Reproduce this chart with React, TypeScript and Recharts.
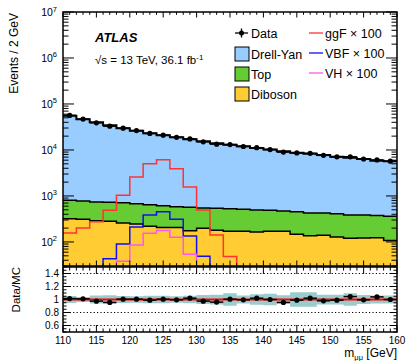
import React from 'react';
import {
  ComposedChart,
  Area,
  Line,
  Scatter,
  ErrorBar,
  XAxis,
  YAxis,
  ReferenceLine,
} from 'recharts';

// bin lower edges, 2 GeV bins
const binLow = [
  110, 112, 114, 116, 118, 120, 122, 124, 126, 128, 130, 132, 134,
  136, 138, 140, 142, 144, 146, 148, 150, 152, 154, 156, 158,
];
const binWidth = 2;

// stacked backgrounds (events / 2 GeV)
const dibosonVals = [
  321, 311, 290, 281, 259, 246, 219, 207, 207, 176, 198, 179, 170,
  170, 165, 170, 170, 147, 137, 140, 128, 120, 122, 124, 108,
];
const topVals = [
  482, 465, 449, 446, 457, 435, 427, 408, 378, 389, 349, 359, 355,
  342, 330, 317, 301, 308, 289, 286, 284, 266, 264, 250, 253,
];
const dyVals = [
  54900, 45620, 39260, 33670, 28980, 25620, 22450, 20290, 18320, 16540, 14850, 13460, 12480,
  11490, 10510, 9710, 8930, 8250, 7870, 7370, 6740, 6410, 6010, 5480, 5340,
];
const dataVals = [
  56500, 46900, 39000, 32900, 29800, 26400, 22900, 21000, 18800, 17400, 15000, 13400, 13100,
  11900, 11200, 10200, 8980, 8610, 8470, 7640, 7080, 7110, 6370, 6080, 5700,
];

// signals x 100
const ggfVals = [
  157, 201, 275, 487, 1030, 2590, 5040, 6150, 3920, 1570, 498, 141, 48,
  8, 4, 2, 2, 2, 2, 2, 2, 2, 2, 2, 2,
];
const vbfVals = [
  2, 4, 12, 43, 90, 212, 386, 452, 313, 134, 49, 10, 3,
  2, 2, 2, 2, 2, 2, 2, 2, 2, 2, 2, 2,
];
const vhVals = [
  1, 2, 5, 12, 38, 86, 155, 178, 126, 54, 15, 4, 2,
  2, 2, 2, 2, 2, 2, 2, 2, 2, 2, 2, 2,
];

// ratio panel
const ratioVals = [
  1.015, 1.01, 0.975, 0.955, 1.005, 1.005, 0.99, 1.005, 0.995, 1.02, 0.975, 0.96, 1.005,
  0.995, 1.02, 1.0, 0.955, 0.99, 1.02, 0.98, 0.99, 1.045, 0.995, 1.04, 1.0,
];
const ratioErr = [
  0.005, 0.005, 0.005, 0.006, 0.006, 0.006, 0.007, 0.007, 0.007, 0.008, 0.008, 0.009, 0.009,
  0.009, 0.01, 0.01, 0.01, 0.011, 0.011, 0.011, 0.012, 0.012, 0.012, 0.013, 0.013,
];
const mcUncert = [
  0.055, 0.04, 0.06, 0.065, 0.055, 0.05, 0.057, 0.057, 0.05, 0.057, 0.07, 0.075, 0.095,
  0.06, 0.08, 0.09, 0.065, 0.11, 0.11, 0.075, 0.075, 0.095, 0.07, 0.06, 0.06,
];

const xTicks = Array.from({ length: 51 }, (_, i) => 110 + i);
const logTicks: number[] = [];
for (let e = 1; e <= 6; e++) {
  for (let m = 1; m <= 9; m++) {
    const v = m * Math.pow(10, e);
    if (v >= 30) logTicks.push(v);
  }
}
logTicks.push(1e7);
const ratioTicks = Array.from({ length: 21 }, (_, i) => +(0.5 + i * 0.05).toFixed(2));

// layout
const W = 406;
const H = 361;
const PL = 63;
const PR = 397;
const MT = 12;
const MB = 266;
const RT = 267;
const RB = 332;
const FONT = '"Liberation Sans", Arial, Helvetica, sans-serif';

const COLORS = {
  dy: '#99ccff',
  top: '#66cc33',
  diboson: '#ffcc33',
  ggf: '#ff3333',
  vbf: '#1010ee',
  vh: '#ff55ee',
  band: '#99cccc',
};

// histogram rows at bin edges (last edge repeats the last bin)
const edges = [...binLow, binLow[binLow.length - 1] + binWidth];
const stepRows = edges.map((x, i) => {
  const k = Math.min(i, binLow.length - 1);
  const dib = dibosonVals[k];
  const top = dib + topVals[k];
  const tot = top + dyVals[k];
  return {
    x,
    dib,
    top,
    tot,
    ggf: ggfVals[k],
    vbf: vbfVals[k],
    vh: vhVals[k],
    band: [1 - mcUncert[k], 1 + mcUncert[k]],
  };
});

const dataPts = binLow.map((lo, i) => ({ x: lo + binWidth / 2, y: dataVals[i], xerr: binWidth / 2 }));
const ratioPts = binLow.map((lo, i) => ({
  x: lo + binWidth / 2,
  y: ratioVals[i],
  xerr: binWidth / 2,
  yerr: ratioErr[i],
}));

const MainYTick = (props: any) => {
  const { y, payload } = props;
  const v = payload.value;
  const exp = Math.round(Math.log10(v));
  const major = Math.abs(v - Math.pow(10, exp)) < 1e-6 * v;
  const len = major ? 11 : 5.5;
  return (
    <g>
      <line x1={PL} x2={PL + len} y1={y} y2={y} stroke="#000" />
      <line x1={PR} x2={PR - len} y1={y} y2={y} stroke="#000" />
      {major && (
        <text x={PL - 6} y={y + 4} textAnchor="end" fontSize={10.5} fontFamily={FONT} fill="#000">
          10<tspan dy={-4.5} fontSize={7.5}>{exp}</tspan>
        </text>
      )}
    </g>
  );
};

const MainXTick = (props: any) => {
  const { x, payload } = props;
  const major = payload.value % 5 === 0;
  const len = major ? 5.5 : 2.8;
  return (
    <g>
      <line x1={x} x2={x} y1={MB} y2={MB - len} stroke="#000" />
      <line x1={x} x2={x} y1={MT} y2={MT + len} stroke="#000" />
    </g>
  );
};

const RatioYTick = (props: any) => {
  const { y, payload } = props;
  const v = payload.value;
  const major = Math.abs(v * 5 - Math.round(v * 5)) < 1e-6 && v > 0.55 && v < 1.45;
  const len = major ? 7 : 3.5;
  return (
    <g>
      <line x1={PL} x2={PL + len} y1={y} y2={y} stroke="#000" />
      <line x1={PR} x2={PR - len} y1={y} y2={y} stroke="#000" />
      {major && (
        <text x={PL - 4} y={y + 3.6} textAnchor="end" fontSize={10} fontFamily={FONT} fill="#000">
          {Math.abs(v - 1) < 1e-6 ? '1' : v.toFixed(1)}
        </text>
      )}
    </g>
  );
};

const RatioXTick = (props: any) => {
  const { x, payload } = props;
  const major = payload.value % 5 === 0;
  const len = major ? 7 : 3.5;
  return (
    <g>
      <line x1={x} x2={x} y1={RB} y2={RB - len} stroke="#000" />
      <line x1={x} x2={x} y1={RT} y2={RT + len} stroke="#000" />
      {major && (
        <text x={x} y={RB + 11.5} textAnchor="middle" fontSize={10} fontFamily={FONT} fill="#000">
          {payload.value}
        </text>
      )}
    </g>
  );
};

const DataDot = (props: any) => <circle cx={props.cx} cy={props.cy} r={2.6} fill="#000" />;

const legendText = { fontSize: 12.5, fontFamily: FONT, fill: '#000' };

const Overlay = () => (
  <svg width={W} height={H} style={{ position: 'absolute', left: 0, top: 0, pointerEvents: 'none' }}>
    <rect x={PL} y={MT} width={PR - PL} height={MB - MT} fill="none" stroke="#000" strokeWidth={1.5} />
    <rect x={PL} y={RT} width={PR - PL} height={RB - RT} fill="none" stroke="#000" strokeWidth={1.5} />

    <text x={18} y={13} transform="rotate(-90, 18, 13)" textAnchor="end" fontSize={12} fontFamily={FONT}>
      Events / 2 GeV
    </text>
    <text x={19.5} y={267} transform="rotate(-90, 19.5, 267)" textAnchor="end" fontSize={11.5} fontFamily={FONT}>
      Data/MC
    </text>
    <text x={PR} y={357} textAnchor="end" fontSize={12} fontFamily={FONT}>
      m<tspan dy={3} fontSize={7.5}>μμ</tspan>
      <tspan dy={-3}> [GeV]</tspan>
    </text>

    <text x={95} y={41.5} fontSize={13} fontWeight="bold" fontStyle="italic" fontFamily={FONT}>
      ATLAS
    </text>
    <text x={95} y={64} fontSize={11.5} fontFamily={FONT}>
      √s = 13 TeV, 36.1 fb<tspan dy={-4.5} fontSize={8}>-1</tspan>
    </text>

    {/* legend, left column */}
    <line x1={235} x2={248} y1={33} y2={33} stroke="#000" strokeWidth={1.3} />
    <line x1={241.5} x2={241.5} y1={28.5} y2={37.5} stroke="#000" strokeWidth={1.3} />
    <circle cx={241.5} cy={33} r={2.5} fill="#000" />
    <text x={251} y={37.5} {...legendText}>Data</text>

    <rect x={235} y={47} width={14} height={14} fill={COLORS.dy} stroke="#000" />
    <text x={251} y={58.5} {...legendText}>Drell-Yan</text>
    <rect x={235} y={67} width={14} height={14} fill={COLORS.top} stroke="#000" />
    <text x={251} y={78.5} {...legendText}>Top</text>
    <rect x={235} y={87} width={14} height={14} fill={COLORS.diboson} stroke="#000" />
    <text x={251} y={98.5} {...legendText}>Diboson</text>

    {/* legend, right column */}
    <line x1={309} x2={323} y1={33} y2={33} stroke={COLORS.ggf} strokeWidth={1.3} />
    <text x={325} y={37.5} {...legendText}>ggF × 100</text>
    <line x1={309} x2={323} y1={53} y2={53} stroke={COLORS.vbf} strokeWidth={1.3} />
    <text x={325} y={57.5} {...legendText}>VBF × 100</text>
    <line x1={309} x2={323} y1={73} y2={73} stroke={COLORS.vh} strokeWidth={1.3} />
    <text x={325} y={77.5} {...legendText}>VH × 100</text>
  </svg>
);

export default function App() {
  return (
    <div style={{ position: 'absolute', left: 0, top: 0, width: W, height: H, background: '#fff' }}>
      <div style={{ position: 'absolute', left: 0, top: 0 }}>
        <ComposedChart
          width={W}
          height={H}
          data={stepRows}
          margin={{ top: MT, right: W - PR, left: PL - 1, bottom: H - MB - 1 }}
        >
          <XAxis
            dataKey="x"
            type="number"
            domain={[110, 160]}
            ticks={xTicks}
            interval={0}
            height={1}
            axisLine={false}
            tickLine={false}
            tickSize={0}
            tickMargin={0}
            tick={<MainXTick />}
            allowDataOverflow
          />
          <YAxis
            type="number"
            scale="log"
            domain={[30, 1e7]}
            ticks={logTicks}
            interval={0}
            width={1}
            axisLine={false}
            tickLine={false}
            tickSize={0}
            tickMargin={0}
            tick={<MainYTick />}
            allowDataOverflow
          />
          <Area dataKey="tot" type="stepAfter" baseValue={30} fill={COLORS.dy} fillOpacity={1} stroke="#000" strokeWidth={2} isAnimationActive={false} />
          <Area dataKey="top" type="stepAfter" baseValue={30} fill={COLORS.top} fillOpacity={1} stroke="#000" strokeWidth={1.5} isAnimationActive={false} />
          <Area dataKey="dib" type="stepAfter" baseValue={30} fill={COLORS.diboson} fillOpacity={1} stroke="#000" strokeWidth={1.5} isAnimationActive={false} />
          <Line dataKey="ggf" type="stepAfter" stroke={COLORS.ggf} strokeWidth={1.5} dot={false} isAnimationActive={false} />
          <Line dataKey="vbf" type="stepAfter" stroke={COLORS.vbf} strokeWidth={1.5} dot={false} isAnimationActive={false} />
          <Line dataKey="vh" type="stepAfter" stroke={COLORS.vh} strokeWidth={1.5} dot={false} isAnimationActive={false} />
          <Scatter data={dataPts} dataKey="y" shape={<DataDot />} isAnimationActive={false}>
            <ErrorBar dataKey="xerr" direction="x" width={0} stroke="#000" strokeWidth={1.5} />
          </Scatter>
        </ComposedChart>
      </div>

      <div style={{ position: 'absolute', left: 0, top: 0 }}>
        <ComposedChart
          width={W}
          height={H}
          data={stepRows}
          margin={{ top: RT, right: W - PR, left: PL - 1, bottom: H - RB - 1 }}
        >
          <XAxis
            dataKey="x"
            type="number"
            domain={[110, 160]}
            ticks={xTicks}
            interval={0}
            height={1}
            axisLine={false}
            tickLine={false}
            tickSize={0}
            tickMargin={0}
            tick={<RatioXTick />}
            allowDataOverflow
          />
          <YAxis
            type="number"
            domain={[0.5, 1.5]}
            ticks={ratioTicks}
            interval={0}
            width={1}
            axisLine={false}
            tickLine={false}
            tickSize={0}
            tickMargin={0}
            tick={<RatioYTick />}
            allowDataOverflow
          />
          <Area dataKey="band" type="stepAfter" fill={COLORS.band} fillOpacity={1} stroke="none" isAnimationActive={false} />
          {[0.6, 0.8, 1.2, 1.4].map((v) => (
            <ReferenceLine key={v} y={v} stroke="#000" strokeDasharray="1.2 2.2" />
          ))}
          <ReferenceLine y={1} stroke="#ff0000" strokeWidth={2.2} />
          <Scatter data={ratioPts} dataKey="y" shape={<DataDot />} isAnimationActive={false}>
            <ErrorBar dataKey="xerr" direction="x" width={0} stroke="#000" strokeWidth={1.5} />
            <ErrorBar dataKey="yerr" direction="y" width={0} stroke="#000" strokeWidth={1.5} />
          </Scatter>
        </ComposedChart>
      </div>

      <Overlay />
    </div>
  );
}
